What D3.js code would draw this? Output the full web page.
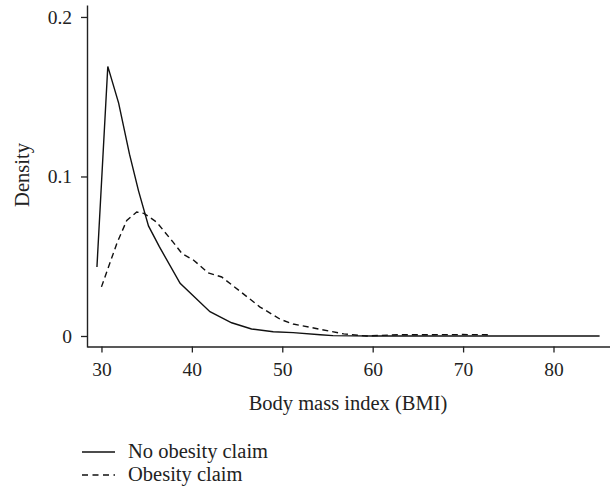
<!DOCTYPE html>
<html>
<head>
  <title>BMI density</title>
  <style>
    body {
      margin: 0;
      padding: 0;
      background-color: #fff;
    }
    svg text {
      font-family: "Liberation Serif", "DejaVu Serif", serif;
      fill: #222;
    }
  </style>
</head>
<body>
  <div id="chartContainer"></div>

  <script src="https://d3js.org/d3.v7.min.js"></script>
  <script>
    // kernel density readings, no obesity claim (solid)
    var noClaimBmi = [29.5, 30.7, 31.9, 33.1, 34.1, 35.2, 36.4, 38.7, 42.0, 44.4, 46.6, 49.0, 51.2, 54.2, 55.6, 60.0, 70.0, 85.1];
    var noClaimDensity = [0.0433, 0.169, 0.146, 0.114, 0.091, 0.069, 0.056, 0.033, 0.0152, 0.0083, 0.0044, 0.0027, 0.0021, 0.0008, 0.0002, 0.0, 0.0, 0.0];

    // obesity claim (dashed)
    var claimBmi = [30.0, 31.7, 32.8, 33.9, 34.7, 36.1, 37.9, 38.9, 40.2, 41.8, 43.3, 46.1, 47.5, 49.8, 51.2, 54.2, 56.8, 59.3, 63.0, 66.0, 70.0, 73.0];
    var claimDensity = [0.0308, 0.058, 0.0725, 0.0777, 0.0769, 0.0714, 0.059, 0.0517, 0.0475, 0.0396, 0.037, 0.0246, 0.0183, 0.0104, 0.0075, 0.0042, 0.0013, 0.0, 0.0008, 0.0008, 0.0009, 0.0008];

    var xTicks = [30, 40, 50, 60, 70, 80];
    var yTicks = [0, 0.1, 0.2];
    var yTickLabels = ["0", "0.1", "0.2"];
    var legendLabels = ["No obesity claim", "Obesity claim"];

    var width = 610, height = 488;

    var svg = d3.select("#chartContainer")
      .append("svg")
      .attr("width", width)
      .attr("height", height);

    var xScale = d3.scaleLinear()
      .domain([28.4, 86.25])
      .range([87, 610]);

    var yScale = d3.scaleLinear()
      .domain([-0.0069, 0.2075])
      .range([347, 5]);

    svg.append("g")
      .attr("transform", "translate(0,346.5)")
      .call(d3.axisBottom(xScale).tickValues(xTicks).tickSize(6).tickSizeOuter(0).tickPadding(10));

    svg.append("g")
      .attr("transform", "translate(87,0)")
      .call(d3.axisLeft(yScale).tickValues(yTicks)
        .tickFormat(function (d, i) { return yTickLabels[i]; })
        .tickSize(6).tickSizeOuter(0).tickPadding(9));

    svg.selectAll(".domain").attr("stroke", "#222").attr("stroke-width", 1.4);
    svg.selectAll(".tick line").attr("stroke", "#222").attr("stroke-width", 1.3);
    svg.selectAll(".tick text").attr("font-size", 19.5).attr("fill", "#222")
      .attr("font-family", "Liberation Serif, DejaVu Serif, serif");

    var line = d3.line()
      .x(function (d) { return xScale(d[0]); })
      .y(function (d) { return yScale(d[1]); });

    svg.append("path")
      .datum(d3.zip(noClaimBmi, noClaimDensity))
      .attr("d", line)
      .attr("fill", "none")
      .attr("stroke", "#111")
      .attr("stroke-width", 1.4);

    svg.append("path")
      .datum(d3.zip(claimBmi, claimDensity))
      .attr("d", line)
      .attr("fill", "none")
      .attr("stroke", "#111")
      .attr("stroke-width", 1.4)
      .attr("stroke-dasharray", "6,4");

    svg.append("text")
      .attr("x", 348)
      .attr("y", 410)
      .attr("text-anchor", "middle")
      .attr("font-size", 20.5)
      .text("Body mass index (BMI)");

    svg.append("text")
      .attr("transform", "translate(29,175) rotate(-90)")
      .attr("text-anchor", "middle")
      .attr("font-size", 20.5)
      .text("Density");

    var legend = svg.selectAll(".legend")
      .data(legendLabels)
      .enter()
      .append("g")
      .attr("class", "legend")
      .attr("transform", function (d, i) { return "translate(82," + (452 + i * 23) + ")"; });

    legend.append("line")
      .attr("x1", 0)
      .attr("x2", 33)
      .attr("stroke", "#111")
      .attr("stroke-width", 1.4)
      .attr("stroke-dasharray", function (d, i) { return i === 1 ? "6,4.5" : null; });

    legend.append("text")
      .attr("x", 46)
      .attr("y", 6)
      .attr("font-size", 20.5)
      .text(function (d) { return d; });
  </script>
</body>
</html>
